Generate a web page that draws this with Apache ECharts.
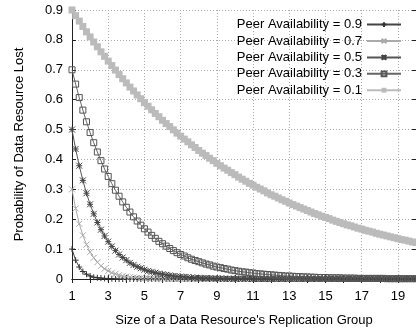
<!DOCTYPE html>
<html>
<head>
<meta charset="utf-8">
<script src="https://cdn.jsdelivr.net/npm/echarts@6/dist/echarts.min.js"></script>
<style>
  html, body { margin: 0; padding: 0; background: #fff; }
  #chart { width: 416px; height: 328px; }
</style>
</head>
<body>
<div id="chart"></div>
<script>
// group size, sampled every 0.2
const groupSize = [
  1, 1.2, 1.4, 1.6, 1.8, 2, 2.2, 2.4, 2.6, 2.8,
  3, 3.2, 3.4, 3.6, 3.8, 4, 4.2, 4.4, 4.6, 4.8,
  5, 5.2, 5.4, 5.6, 5.8, 6, 6.2, 6.4, 6.6, 6.8,
  7, 7.2, 7.4, 7.6, 7.8, 8, 8.2, 8.4, 8.6, 8.8,
  9, 9.2, 9.4, 9.6, 9.8, 10, 10.2, 10.4, 10.6, 10.8,
  11, 11.2, 11.4, 11.6, 11.8, 12, 12.2, 12.4, 12.6, 12.8,
  13, 13.2, 13.4, 13.6, 13.8, 14, 14.2, 14.4, 14.6, 14.8,
  15, 15.2, 15.4, 15.6, 15.8, 16, 16.2, 16.4, 16.6, 16.8,
  17, 17.2, 17.4, 17.6, 17.8, 18, 18.2, 18.4, 18.6, 18.8,
  19, 19.2, 19.4, 19.6, 19.8, 20
];

const lostAvail09 = [
  0.100, 0.063, 0.040, 0.025, 0.016, 0.010, 0.006, 0.004, 0.003, 0.002,
  0.001, 0.001, 0, 0, 0, 0, 0, 0, 0, 0,
  0, 0, 0, 0, 0, 0, 0, 0, 0, 0,
  0, 0, 0, 0, 0, 0, 0, 0, 0, 0,
  0, 0, 0, 0, 0, 0, 0, 0, 0, 0,
  0, 0, 0, 0, 0, 0, 0, 0, 0, 0,
  0, 0, 0, 0, 0, 0, 0, 0, 0, 0,
  0, 0, 0, 0, 0, 0, 0, 0, 0, 0,
  0, 0, 0, 0, 0, 0, 0, 0, 0, 0,
  0, 0, 0, 0, 0, 0
];

const lostAvail07 = [
  0.300, 0.236, 0.185, 0.146, 0.115, 0.090, 0.071, 0.056, 0.044, 0.034,
  0.027, 0.021, 0.017, 0.013, 0.010, 0.008, 0.006, 0.005, 0.004, 0.003,
  0.002, 0.002, 0.002, 0.001, 0.001, 0.001, 0.001, 0, 0, 0,
  0, 0, 0, 0, 0, 0, 0, 0, 0, 0,
  0, 0, 0, 0, 0, 0, 0, 0, 0, 0,
  0, 0, 0, 0, 0, 0, 0, 0, 0, 0,
  0, 0, 0, 0, 0, 0, 0, 0, 0, 0,
  0, 0, 0, 0, 0, 0, 0, 0, 0, 0,
  0, 0, 0, 0, 0, 0, 0, 0, 0, 0,
  0, 0, 0, 0, 0, 0
];

const lostAvail05 = [
  0.500, 0.435, 0.379, 0.330, 0.287, 0.250, 0.218, 0.189, 0.165, 0.144,
  0.125, 0.109, 0.095, 0.082, 0.072, 0.063, 0.054, 0.047, 0.041, 0.036,
  0.031, 0.027, 0.024, 0.021, 0.018, 0.016, 0.014, 0.012, 0.010, 0.009,
  0.008, 0.007, 0.006, 0.005, 0.004, 0.004, 0.003, 0.003, 0.003, 0.002,
  0.002, 0.002, 0.001, 0.001, 0.001, 0.001, 0.001, 0.001, 0.001, 0.001,
  0, 0, 0, 0, 0, 0, 0, 0, 0, 0,
  0, 0, 0, 0, 0, 0, 0, 0, 0, 0,
  0, 0, 0, 0, 0, 0, 0, 0, 0, 0,
  0, 0, 0, 0, 0, 0, 0, 0, 0, 0,
  0, 0, 0, 0, 0, 0
];

const lostAvail03 = [
  0.700, 0.652, 0.607, 0.565, 0.526, 0.490, 0.456, 0.425, 0.396, 0.368,
  0.343, 0.319, 0.297, 0.277, 0.258, 0.240, 0.224, 0.208, 0.194, 0.180,
  0.168, 0.157, 0.146, 0.136, 0.126, 0.118, 0.110, 0.102, 0.095, 0.088,
  0.082, 0.077, 0.071, 0.066, 0.062, 0.058, 0.054, 0.050, 0.047, 0.043,
  0.040, 0.038, 0.035, 0.033, 0.030, 0.028, 0.026, 0.024, 0.023, 0.021,
  0.020, 0.018, 0.017, 0.016, 0.015, 0.014, 0.013, 0.012, 0.011, 0.010,
  0.010, 0.009, 0.008, 0.008, 0.007, 0.007, 0.006, 0.006, 0.005, 0.005,
  0.005, 0.004, 0.004, 0.004, 0.004, 0.003, 0.003, 0.003, 0.003, 0.002,
  0.002, 0.002, 0.002, 0.002, 0.002, 0.002, 0.002, 0.001, 0.001, 0.001,
  0.001, 0.001, 0.001, 0.001, 0.001, 0.001
];

const lostAvail01 = [
  0.900, 0.881, 0.863, 0.845, 0.827, 0.810, 0.793, 0.777, 0.760, 0.745,
  0.729, 0.714, 0.699, 0.684, 0.670, 0.656, 0.642, 0.629, 0.616, 0.603,
  0.590, 0.578, 0.566, 0.554, 0.543, 0.531, 0.520, 0.510, 0.499, 0.488,
  0.478, 0.468, 0.459, 0.449, 0.440, 0.430, 0.421, 0.413, 0.404, 0.396,
  0.387, 0.379, 0.371, 0.364, 0.356, 0.349, 0.341, 0.334, 0.327, 0.320,
  0.314, 0.307, 0.301, 0.295, 0.288, 0.282, 0.277, 0.271, 0.265, 0.260,
  0.254, 0.249, 0.244, 0.239, 0.234, 0.229, 0.224, 0.219, 0.215, 0.210,
  0.206, 0.202, 0.197, 0.193, 0.189, 0.185, 0.181, 0.178, 0.174, 0.170,
  0.167, 0.163, 0.160, 0.157, 0.153, 0.150, 0.147, 0.144, 0.141, 0.138,
  0.135, 0.132, 0.130, 0.127, 0.124, 0.122
];

const seriesNames = [
  "Peer Availability = 0.9",
  "Peer Availability = 0.7",
  "Peer Availability = 0.5",
  "Peer Availability = 0.3",
  "Peer Availability = 0.1"
];

const FONT = "Liberation Sans";
const PLUS = "path://M0,5L10,5M5,0L5,10";
const CROSS = "path://M0,0L10,10M10,0L0,10";
const STAR = "path://M0,0L10,10M10,0L0,10M0,5L10,5M5,0L5,10";

const pair = (ys) => groupSize.map((x, i) => [x, ys[i]]);

const chart = echarts.init(document.getElementById("chart"), null, {renderer: "canvas"});

const frameAxis = {
  axisLine: {show: true, lineStyle: {color: "#222", width: 1}},
  axisTick: {show: true, inside: true, length: 4, lineStyle: {color: "#222"}},
  axisLabel: {show: false},
  splitLine: {show: false}
};

const mkSeries = (name, ys, symbol, size, color, lineColor, filled) => ({
  name: name,
  type: "line",
  data: pair(ys),
  xAxisIndex: 0,
  yAxisIndex: 0,
  symbol: symbol,
  symbolSize: size,
  showSymbol: true,
  animation: false,
  lineStyle: {color: lineColor, width: 1},
  itemStyle: filled
    ? {color: color, borderWidth: 0}
    : {color: "rgba(0,0,0,0)", borderColor: color, borderWidth: 1},
  emphasis: {disabled: true}
});

const option = {
  backgroundColor: "#fff",
  animation: false,
  textStyle: {fontFamily: FONT},
  grid: {left: 72, right: 0, top: 10, bottom: 49, containLabel: false, outerBoundsMode: "none"},
  legend: {
    orient: "vertical",
    right: 9,
    top: 13,
    align: "right",
    itemWidth: 34,
    itemHeight: 6,
    itemGap: 3.2,
    data: seriesNames,
    textStyle: {fontFamily: FONT, fontSize: 13, color: "#000", lineHeight: 13.2}
  },
  xAxis: [
    {
      type: "value",
      min: 1,
      max: 20,
      interval: 2,
      name: "Size of a Data Resource's Replication Group",
      nameLocation: "middle",
      nameGap: 35,
      nameTextStyle: {fontFamily: FONT, fontSize: 13, color: "#000"},
      axisLine: {show: true, lineStyle: {color: "#222", width: 1}},
      axisTick: {show: true, inside: true, length: 4, lineStyle: {color: "#222"}},
      minorTick: {show: true, splitNumber: 2, length: 4, lineStyle: {color: "#222"}},
      axisLabel: {margin: 11, fontFamily: FONT, fontSize: 13, color: "#000", showMaxLabel: false},
      splitLine: {show: true, lineStyle: {color: "#aaa", type: [1, 2], width: 1}}
    },
    Object.assign({}, frameAxis, {
      type: "value",
      position: "top",
      min: 1,
      max: 20,
      interval: 2,
      minorTick: {show: true, splitNumber: 2, length: 4, lineStyle: {color: "#222"}}
    })
  ],
  yAxis: [
    {
      type: "value",
      min: 0,
      max: 0.9,
      interval: 0.1,
      name: "Probability of Data Resource Lost",
      nameLocation: "middle",
      nameGap: 46,
      nameTextStyle: {fontFamily: FONT, fontSize: 13, color: "#000"},
      axisLine: {show: true, lineStyle: {color: "#222", width: 1}},
      axisTick: {show: true, inside: true, length: 4, lineStyle: {color: "#222"}},
      axisLabel: {margin: 9, fontFamily: FONT, fontSize: 13, color: "#000",
        formatter: (v) => (v === 0 ? "0" : v.toFixed(1))},
      splitLine: {show: true, lineStyle: {color: "#aaa", type: [1, 2], width: 1}}
    },
    Object.assign({}, frameAxis, {
      type: "value",
      position: "right",
      min: 0,
      max: 0.9,
      interval: 0.1
    })
  ],
  series: [
    mkSeries(seriesNames[0], lostAvail09, PLUS, 6, "#333", "#444", false),
    mkSeries(seriesNames[1], lostAvail07, CROSS, 6, "#aaa", "#aaa", false),
    mkSeries(seriesNames[2], lostAvail05, STAR, 6, "#444", "#555", false),
    mkSeries(seriesNames[3], lostAvail03, "rect", 6, "#555", "#666", false),
    mkSeries(seriesNames[4], lostAvail01, "rect", 7, "#bbb", "#bbb", true)
  ]
};

chart.setOption(option);
</script>
</body>
</html>
